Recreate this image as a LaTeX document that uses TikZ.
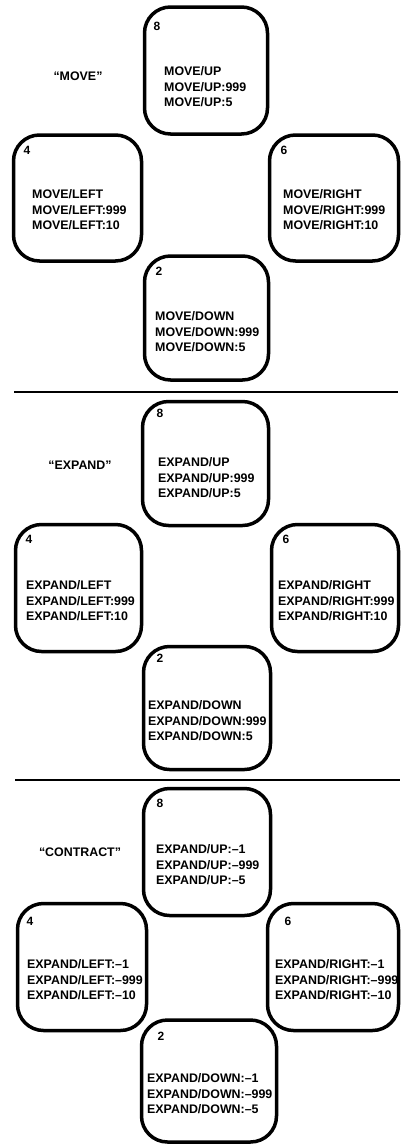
\documentclass[tikz,border=0pt]{standalone}
\usepackage{fontspec}
\setmainfont{Liberation Sans}
\begin{document}
\begin{tikzpicture}[x=1pt,y=-1pt,key/.style={draw,line width=3.5pt,rounded corners=26pt,minimum width=126pt,minimum height=126pt},num/.style={inner sep=0pt,font=\bfseries\fontsize{12}{14}\selectfont},cmd/.style={anchor=west,align=left,inner sep=0pt,font=\bfseries\fontsize{12.4}{15.5}\selectfont},mode/.style={inner sep=0pt,font=\bfseries\fontsize{12.4}{14}\selectfont},rule/.style={line width=1.2pt}]
            \useasboundingbox (0,0) rectangle (407,1144);

            \node[mode] (move) at (78,76) {``MOVE''};
            \node[key,minimum width=123pt,minimum height=127pt] (up1) at (206,70.5) {};
            \node[key,minimum width=128pt] (left1) at (77.5,198) {};
            \node[key,minimum width=129pt] (right1) at (334,198) {};
            \node[key,minimum width=124pt,minimum height=124pt] (down1) at (206.5,318) {};
            \node[num] (n8a) at (157,26) {8};
            \node[num] (n4a) at (27,150) {4};
            \node[num] (n6a) at (284,150) {6};
            \node[num] (n2a) at (159,271) {2};
            \node[cmd] (up1t) at (164,87) {MOVE/UP\\MOVE/UP:999\\MOVE/UP:5};
            \node[cmd] (left1t) at (32,210) {MOVE/LEFT\\MOVE/LEFT:999\\MOVE/LEFT:10};
            \node[cmd] (right1t) at (283,210) {MOVE/RIGHT\\MOVE/RIGHT:999\\MOVE/RIGHT:10};
            \node[cmd] (down1t) at (155,332) {MOVE/DOWN\\MOVE/DOWN:999\\MOVE/DOWN:5};

            \coordinate (r1a) at (14,392);
            \coordinate (r1b) at (398,392);

            \node[mode] (expand) at (80,465) {``EXPAND''};
            \node[key,minimum height=124pt] (up2) at (205.5,463.5) {};
            \node[key,minimum height=127pt] (left2) at (78.5,588) {};
            \node[key,minimum width=127pt,minimum height=127pt] (right2) at (335,588) {};
            \node[key,minimum width=127pt,minimum height=123pt] (down2) at (207,708) {};
            \node[num] (n8b) at (160,413) {8};
            \node[num] (n4b) at (29,539) {4};
            \node[num] (n6b) at (286,539) {6};
            \node[num] (n2b) at (160,658) {2};
            \node[cmd] (up2t) at (158,478) {EXPAND/UP\\EXPAND/UP:999\\EXPAND/UP:5};
            \node[cmd] (left2t) at (26,601) {EXPAND/LEFT\\EXPAND/LEFT:999\\EXPAND/LEFT:10};
            \node[cmd] (right2t) at (278,601) {EXPAND/RIGHT\\EXPAND/RIGHT:999\\EXPAND/RIGHT:10};
            \node[cmd] (down2t) at (148,721) {EXPAND/DOWN\\EXPAND/DOWN:999\\EXPAND/DOWN:5};

            \coordinate (r2a) at (15,780);
            \coordinate (r2b) at (400,780);

            \node[mode] (contract) at (80,852) {``CONTRACT''};
            \node[key,minimum width=127pt,minimum height=127pt] (up3) at (207,852) {};
            \node[key,minimum width=129pt,minimum height=127pt] (left3) at (82,967) {};
            \node[key,minimum width=131pt,minimum height=127pt] (right3) at (333,967) {};
            \node[key,minimum width=135pt,minimum height=122pt] (down3) at (209,1081) {};
            \node[num] (n8c) at (160,803) {8};
            \node[num] (n4c) at (30,921) {4};
            \node[num] (n6c) at (288,921) {6};
            \node[num] (n2c) at (161,1036) {2};
            \node[cmd] (up3t) at (156,865) {EXPAND/UP:--1\\EXPAND/UP:--999\\EXPAND/UP:--5};
            \node[cmd] (left3t) at (27,980) {EXPAND/LEFT:--1\\EXPAND/LEFT:--999\\EXPAND/LEFT:--10};
            \node[cmd] (right3t) at (275,980) {EXPAND/RIGHT:--1\\EXPAND/RIGHT:--999\\EXPAND/RIGHT:--10};
            \node[cmd] (down3t) at (147,1094) {EXPAND/DOWN:--1\\EXPAND/DOWN:--999\\EXPAND/DOWN:--5};

            \draw[rule] (r1a) -- (r1b);
            \draw[rule] (r2a) -- (r2b);
        \end{tikzpicture}
\end{document}
